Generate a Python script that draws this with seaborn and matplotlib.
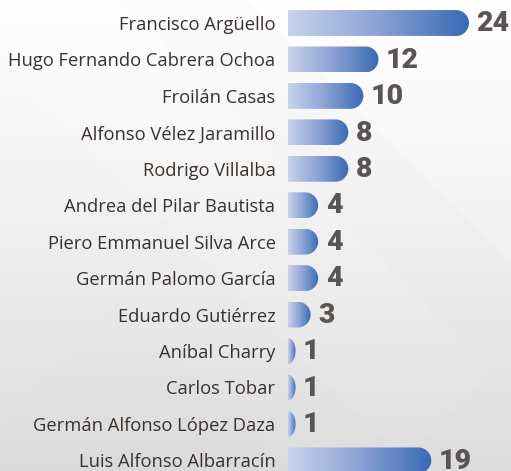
import numpy as np
import pandas as pd
import matplotlib
matplotlib.use("Agg")
import matplotlib.pyplot as plt
import seaborn as sns
from matplotlib.path import Path
from matplotlib.patches import PathPatch
from matplotlib.colors import LinearSegmentedColormap

nombres = [
    "Francisco Argüello",
    "Hugo Fernando Cabrera Ochoa",
    "Froilán Casas",
    "Alfonso Vélez Jaramillo",
    "Rodrigo Villalba",
    "Andrea del Pilar Bautista",
    "Piero Emmanuel Silva Arce",
    "Germán Palomo García",
    "Eduardo Gutiérrez",
    "Aníbal Charry",
    "Carlos Tobar",
    "Germán Alfonso López Daza",
    "Luis Alfonso Albarracín",
]
votos = [24, 12, 10, 8, 8, 4, 4, 4, 3, 1, 1, 1, 19]

W_PX, H_PX = 511, 471
DPI = 100

sns.set_theme(style="white")
plt.rcParams["font.family"] = ["Open Sans", "DejaVu Sans"]

fig = plt.figure(figsize=(W_PX / DPI, H_PX / DPI), dpi=DPI)

# --- soft gray background with faint diagonal facets ---
bg = fig.add_axes([0, 0, 1, 1], zorder=-5)
bg.set_axis_off()
yy, xx = np.mgrid[0:H_PX, 0:W_PX].astype(float)
base = 0.988 - 0.125 * (yy / H_PX) ** 1.3
base += 0.010 * ((xx - yy) > 245)
base += 0.007 * (((xx - yy) > -60) & ((xx + yy) < 860) & ((xx - yy) < 120))
base -= 0.006 * (((xx + yy) > 420) & ((xx - yy) < -180))
base = np.clip(base, 0, 1)
bg.imshow(np.dstack([base, base, base]), extent=[0, 1, 0, 1], aspect="auto",
          origin="upper", interpolation="bilinear")
bg.set_xlim(0, 1)
bg.set_ylim(0, 1)

# --- bar axes ---
left_px = 288
ax = fig.add_axes([left_px / W_PX, 0, (W_PX - left_px) / W_PX, 1])
df = pd.DataFrame({"nombre": nombres, "votos": votos})
sns.barplot(data=df, y="nombre", x="votos", orient="h", width=0.71,
            color="#3a6cb6", ax=ax)

sx = 7.54          # pixels per vote
sy = 36.45         # pixels per row
xmax = (W_PX - left_px) / sx
ytop = -23 / sy
ybot = (H_PX - 23) / sy

cmap = LinearSegmentedColormap.from_list("azul", ["#c9d3ec", "#8aa2d4", "#386ab5"])
grad = np.linspace(0, 1, 256).reshape(1, -1)

for patch in list(ax.patches):
    x0 = patch.get_x()
    w = patch.get_width()
    y0 = patch.get_y()
    h = patch.get_height()
    patch.set_visible(False)
    x1 = x0 + w
    yc = y0 + h / 2
    r_px = min(h * sy / 2, w * sx)
    rx = r_px / sx
    t = np.linspace(-np.pi / 2, np.pi / 2, 60)
    arc = np.column_stack([(x1 - rx) + rx * np.cos(t), yc + (h / 2) * np.sin(t)])
    verts = np.vstack([[x0, y0], arc, [x0, y0 + h], [x0, y0]])
    codes = [Path.MOVETO] + [Path.LINETO] * (len(verts) - 2) + [Path.CLOSEPOLY]
    shape = PathPatch(Path(verts, codes), facecolor="none", edgecolor="none")
    ax.add_patch(shape)
    im = ax.imshow(grad, cmap=cmap, extent=[x0, x1, y0 + h, y0],
                   aspect="auto", interpolation="bilinear", zorder=2)
    im.set_clip_path(shape)

for i, v in enumerate(votos):
    ax.text(v + 7.5 / sx, i + 0.02, str(v), ha="left", va="center",
            fontsize=20.5, fontweight="black", family=["Roboto", "DejaVu Sans"],
            color="#5a5452", clip_on=False, zorder=3)

ax.set_xlim(0, xmax)
ax.set_ylim(ybot, ytop)
ax.set_facecolor("none")
ax.set_xlabel("")
ax.set_ylabel("")
ax.xaxis.set_visible(False)
for s in ax.spines.values():
    s.set_visible(False)
ax.tick_params(axis="y", length=0, pad=9, labelsize=13.2, labelcolor="#3a322d")

fig.savefig("out.png", dpi=DPI)
